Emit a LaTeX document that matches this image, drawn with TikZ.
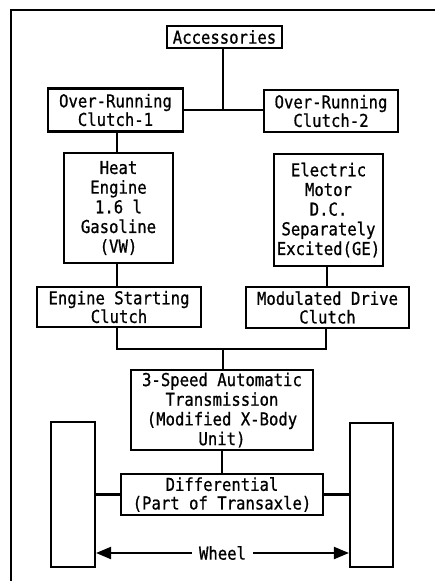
\documentclass[tikz,border=0pt]{standalone}
\usepackage{fontspec}
\newfontfamily\drivefont[FakeStretch=0.88,FakeBold=0.8]{DejaVu Sans Mono}
\usetikzlibrary{arrows.meta,positioning,calc}
\tikzset{
  unit/.style={draw, line width=1.2pt, align=center, inner sep=0pt, font=\drivefont\fontsize{10.1}{10.6}\selectfont},
  tall/.style={unit, font=\drivefont\fontsize{10.1}{11.2}\selectfont},
  shaft/.style={line width=1.2pt},
  span/.style={line width=1.2pt, {Triangle[length=3mm,width=2.4mm]}-{Triangle[length=3mm,width=2.4mm]}},
  tag/.style={fill=white, inner sep=4pt, font=\drivefont\fontsize{10.1}{10.6}\selectfont},
}

\begin{document}
\begin{tikzpicture}[x=0.02cm,y=-0.02cm]
  \useasboundingbox (0,0) rectangle (435,581);
  \draw[line width=0.8pt] (11,581) -- (11,10) -- (435,10);

  % power sources
  \node[unit, minimum width=2.30cm, minimum height=0.44cm] (acc) at (224.5,37) {Accessories};
  \node[unit, minimum width=2.70cm, minimum height=0.86cm] (orc1) at (115.5,110) {Over-Running\\Clutch-1};
  \node[unit, minimum width=2.68cm, minimum height=0.84cm] (orc2) at (331,111) {Over-Running\\Clutch-2};
  \node[tall, minimum width=2.18cm, minimum height=2.20cm] (heat) at (118.5,208) {Heat\\Engine\\1.6 l\\Gasoline\\(VW)};
  \node[tall, minimum width=2.18cm, minimum height=2.24cm] (elec) at (328.5,210) {Electric\\Motor\\D.C.\\Separately\\Excited(GE)};
  \node[unit, minimum width=3.28cm, minimum height=0.80cm] (esc) at (119,307) {Engine Starting\\Clutch};
  \node[unit, minimum width=3.26cm, minimum height=0.82cm] (mdc) at (327.5,307.5) {Modulated Drive\\Clutch};

  % driveline
  \node[tall, minimum width=3.64cm, minimum height=1.60cm] (trans) at (222,410) {3-Speed Automatic\\Transmission\\(Modified X-Body\\Unit)};
  \node[unit, minimum width=4.04cm, minimum height=0.82cm] (diff) at (222,494.5) {Differential\\(Part of Transaxle)};
  \node[unit, minimum width=0.88cm, minimum height=2.90cm] (wheelL) at (73,494.5) {};
  \node[unit, minimum width=0.86cm, minimum height=2.88cm] (wheelR) at (371.5,495) {};

  \coordinate (top) at (223,110);
  \coordinate (mid) at (223,349);
  \coordinate (ay) at (0,553);

  \draw[shaft] (acc.south -| top) -- (top);
  \draw[shaft] (orc1.east |- top) -- (orc2.west |- top);
  \draw[shaft] (117,0 |- orc1.south) -- (117,0 |- heat.north);
  \draw[shaft] (heat.south -| 117,0) -- (esc.north -| 117,0);
  \draw[shaft] (elec.south -| 327,0) -- (mdc.north -| 327,0);
  \draw[shaft] (esc.south -| 117,0) |- (mid) -| (mdc.south -| 326,0);
  \draw[shaft] (mid) -- (trans.north -| mid);
  \draw[shaft] (trans) -- (diff);
  \draw[shaft] (wheelL) -- (diff);
  \draw[shaft] (diff) -- (wheelR.west |- diff);
  \draw[span] (wheelL.east |- ay) -- node[tag]{Wheel} (wheelR.west |- ay);
\end{tikzpicture}
\end{document}
